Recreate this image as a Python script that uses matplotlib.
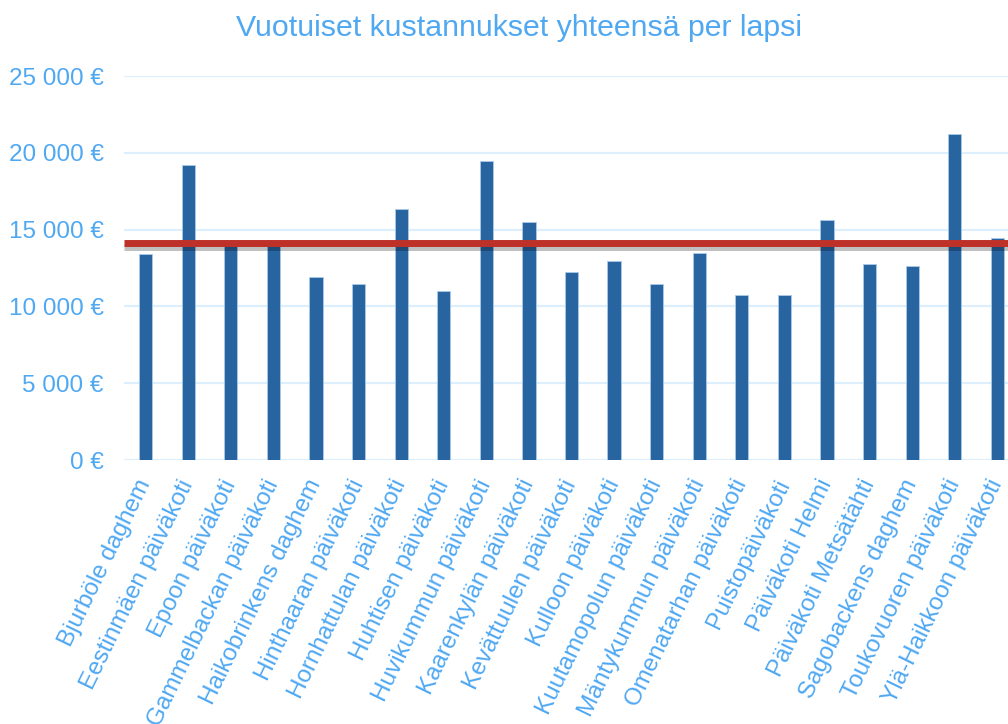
import matplotlib.pyplot as plt
import matplotlib.patheffects as pe

plt.rcParams['font.family'] = ['Liberation Sans', 'DejaVu Sans']

# Päiväkodit ja kustannukset per lapsi (€)
paivakodit = [
    'Bjurböle daghem', 'Eestinmäen päiväkoti', 'Epoon päiväkoti',
    'Gammelbackan päiväkoti', 'Haikobrinkens daghem', 'Hinthaaran päiväkoti',
    'Hornhattulan päiväkoti', 'Huhtisen päiväkoti', 'Huvikummun päiväkoti',
    'Kaarenkylän päiväkoti', 'Kevättuulen päiväkoti', 'Kulloon päiväkoti',
    'Kuutamopolun päiväkoti', 'Mäntykummun päiväkoti', 'Omenatarhan päiväkoti',
    'Puistopäiväkoti', 'Päiväkoti Helmi', 'Päiväkoti Metsätähti',
    'Sagobackens daghem', 'Toukovuoren päiväkoti', 'Ylä-Haikkoon päiväkoti',
]
kustannukset = [
    13400, 19200, 14050, 14050, 11900, 11450, 16350, 11000, 19450, 15500,
    12250, 12950, 11450, 13500, 10750, 10750, 15650, 12750, 12600, 21200, 14450,
]
keskiarvo = [14100] * len(paivakodit)

y_ticks = [0, 5000, 10000, 15000, 20000, 25000]
y_labels = ['0 €', '5 000 €', '10 000 €', '15 000 €', '20 000 €', '25 000 €']

tekstivari = '#4FA8F2'
x = list(range(len(paivakodit)))

fig = plt.figure(figsize=(10.08, 7.24), dpi=100)
ax = fig.add_axes([0.1234, 0.3646, 0.8871, 0.5304])

ax.bar(x, kustannukset, width=0.31, color='#28649F',
       edgecolor='#A9CBEA', linewidth=0.6, zorder=2)

# Keskiarvoviiva koko levyltä
ax.plot([-0.5] + x[1:-1] + [len(x) - 0.5], keskiarvo,
        color='#BE3129', linewidth=5, solid_capstyle='butt', zorder=3,
        path_effects=[pe.SimpleLineShadow(offset=(0, -2.5), shadow_color='black', alpha=0.25),
                      pe.Normal()])

ax.set_xlim(-0.5, len(x) - 0.5)
ax.set_ylim(0, 25000)
ax.set_yticks(y_ticks)
ax.set_yticklabels(y_labels)
ax.set_xticks(x)
ax.set_xticklabels(paivakodit)

ax.yaxis.grid(True, color='#DDEEFD', linewidth=1.6, zorder=0)
ax.set_axisbelow(True)
for s in ax.spines.values():
    s.set_visible(False)

ax.tick_params(axis='y', length=0, pad=15, labelsize=17.5, labelcolor=tekstivari)
ax.tick_params(axis='x', length=0, pad=15, labelsize=17.5, labelcolor=tekstivari)
plt.setp(ax.get_xticklabels(), rotation=64, ha='right', va='center', rotation_mode='anchor')

fig.text(0.515, 0.962, 'Vuotuiset kustannukset yhteensä per lapsi',
         ha='center', va='center', fontsize=21.8, color=tekstivari)

fig.savefig('out.png', dpi=100)
